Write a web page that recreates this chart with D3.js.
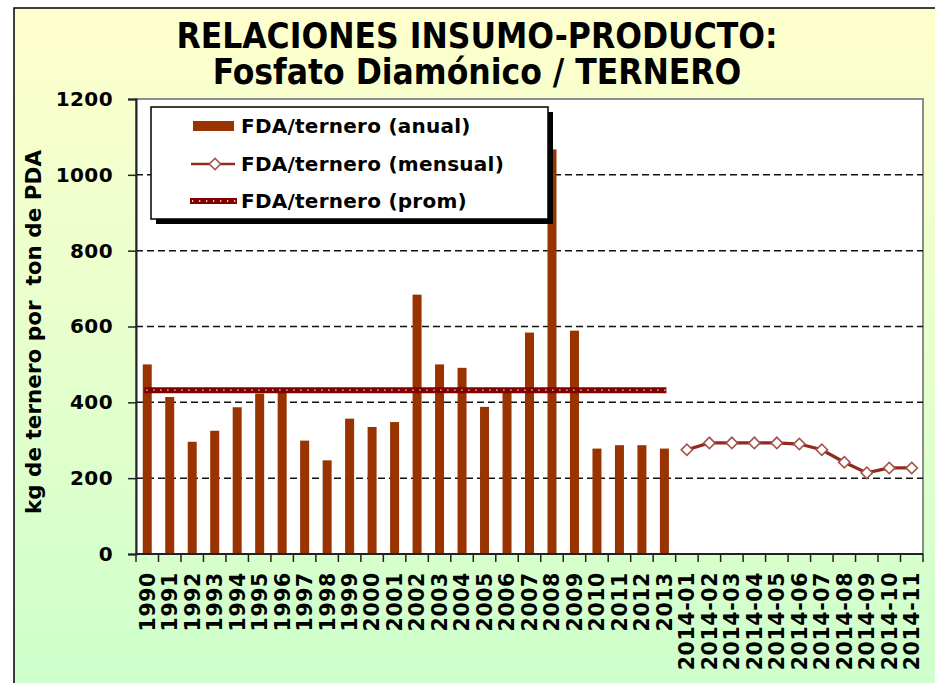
<!DOCTYPE html>
<html>
<head>
<meta charset="utf-8">
<script src="https://cdn.jsdelivr.net/npm/d3@7"></script>
<style>
  html, body { margin: 0; padding: 0; background: #fff; }
  svg { display: block; }
  .bold { font-family: "DejaVu Sans", Verdana, sans-serif; font-weight: bold; }
</style>
</head>
<body>
<svg id="chart" width="935" height="683"></svg>
<script>
// ---- data ----
const years = ["1990","1991","1992","1993","1994","1995","1996","1997","1998","1999","2000","2001","2002","2003","2004","2005","2006","2007","2008","2009","2010","2011","2012","2013"];
const annualValues = [500,414,296,325,387,423,430,299,247,357,335,348,684,500,491,388,427,584,1067,589,278,287,287,278];
const months = ["2014-01","2014-02","2014-03","2014-04","2014-05","2014-06","2014-07","2014-08","2014-09","2014-10","2014-11"];
const monthlyValues = [275,293,293,293,293,290,275,242,214,227,227];
const averageValue = 432;
const yTicks = [0,200,400,600,800,1000,1200];
const titleLines = ["RELACIONES INSUMO-PRODUCTO:", "Fosfato Diamónico / TERNERO"];
const yLabel = "kg de ternero por\u00a0 ton de PDA";
const legendLabels = ["FDA/ternero (anual)", "FDA/ternero (mensual)", "FDA/ternero (prom)"];

const categories = years.concat(months);

// ---- layout ----
const svg = d3.select("#chart");
const plot = {left: 136, right: 923, top: 99, bottom: 554};
const barColor = "#993300";
const lineColor = "#8E2B1E";
const promColor = "#800000";

// background gradient
const defs = svg.append("defs");
const grad = defs.append("linearGradient").attr("id", "bg").attr("x1", 0).attr("y1", 0).attr("x2", 0).attr("y2", 1);
grad.append("stop").attr("offset", "0%").attr("stop-color", "#FFFFCC");
grad.append("stop").attr("offset", "100%").attr("stop-color", "#CCFFCC");

svg.append("rect").attr("x", 14).attr("y", 8).attr("width", 940).attr("height", 700)
  .attr("fill", "url(#bg)").attr("stroke", "#000").attr("stroke-width", 1.5);

// title
const titleFont = "'DejaVu Sans Condensed', 'DejaVu Sans', sans-serif";
titleLines.forEach((t, i) => {
  svg.append("text").attr("class", "bold")
    .attr("text-anchor", "middle")
    .attr("x", 477).attr("y", i === 0 ? 48 : 84)
    .style("font-family", titleFont)
    .style("font-stretch", "condensed")
    .style("font-size", "35px").attr("fill", "#000").text(t);
});

// scales
const x = d3.scaleBand().domain(categories).range([plot.left, plot.right]).paddingInner(0.6).paddingOuter(0.3);
const y = d3.scaleLinear().domain([0, 1200]).range([plot.bottom, plot.top]);
const cx = d => x(d) + x.bandwidth() / 2;

// plot area
svg.append("rect").attr("x", plot.left).attr("y", plot.top)
  .attr("width", plot.right - plot.left).attr("height", plot.bottom - plot.top)
  .attr("fill", "#fff").attr("stroke", "#8c8c8c").attr("stroke-width", 2);

// gridlines
svg.append("g").selectAll("line").data(yTicks.filter(t => t > 0 && t < 1200)).join("line")
  .attr("x1", plot.left).attr("x2", plot.right)
  .attr("y1", d => y(d)).attr("y2", d => y(d))
  .attr("stroke", "#111").attr("stroke-width", 1.5).attr("stroke-dasharray", "7,4");

// bars
svg.append("g").selectAll("rect").data(years).join("rect")
  .attr("x", d => x(d)).attr("width", x.bandwidth())
  .attr("y", (d, i) => y(annualValues[i]))
  .attr("height", (d, i) => y(0) - y(annualValues[i]))
  .attr("fill", barColor);

// average line
function promLine(g, x1, x2, yy) {
  g.append("line").attr("x1", x1).attr("x2", x2).attr("y1", yy).attr("y2", yy)
    .attr("stroke", promColor).attr("stroke-width", 6);
  g.append("line").attr("x1", x1 + 2).attr("x2", x2).attr("y1", yy).attr("y2", yy)
    .attr("stroke", "#fff").attr("stroke-width", 1.3).attr("stroke-dasharray", "1.3,5.7");
}
promLine(svg.append("g"), cx(years[0]) - 3, cx(years[years.length - 1]) + 2, y(averageValue));

// monthly line
const line = d3.line().x(d => cx(d[0])).y(d => y(d[1]));
const mData = months.map((m, i) => [m, monthlyValues[i]]);
svg.append("path").datum(mData).attr("d", line)
  .attr("fill", "none").attr("stroke", lineColor).attr("stroke-width", 3.2);
const diamond = d3.symbol().type(d3.symbolSquare).size(64);
svg.append("g").selectAll("path").data(mData).join("path")
  .attr("d", diamond)
  .attr("transform", d => `translate(${cx(d[0])},${y(d[1])}) rotate(45)`)
  .attr("fill", "#fff").attr("stroke", "#A5524A").attr("stroke-width", 1.6);

// y axis
const yAxis = svg.append("g").attr("transform", `translate(${plot.left},0)`)
  .call(d3.axisLeft(y).tickValues(yTicks).tickSize(8).tickPadding(15).tickFormat(d3.format("d")));
yAxis.select(".domain").attr("stroke", "#222").attr("stroke-width", 2);
yAxis.selectAll(".tick line").attr("stroke", "#222").attr("stroke-width", 1.5);
yAxis.selectAll(".tick text").attr("class", "bold").style("font-size", "20px")
  .style("letter-spacing", "0.4px").attr("fill", "#000");

// x axis
const xg = svg.append("g");
xg.append("line").attr("x1", plot.left).attr("x2", plot.right).attr("y1", plot.bottom).attr("y2", plot.bottom)
  .attr("stroke", "#222").attr("stroke-width", 2);
const bounds = categories.map(c => x(c) - (x.step() - x.bandwidth()) / 2).concat([plot.right]);
xg.selectAll("line.tk").data(bounds).join("line").attr("class", "tk")
  .attr("x1", d => d).attr("x2", d => d).attr("y1", plot.bottom).attr("y2", plot.bottom + 8)
  .attr("stroke", "#222").attr("stroke-width", 1.5);
xg.selectAll("text").data(categories).join("text").attr("class", "bold")
  .attr("transform", d => `translate(${cx(d)},572) rotate(-90)`)
  .attr("text-anchor", "end").attr("dy", "0.36em")
  .style("font-size", "20.5px").style("letter-spacing", "0.6px").attr("fill", "#000")
  .text(d => d);

// y label
svg.append("text").attr("class", "bold")
  .attr("transform", "translate(33,332) rotate(-90)")
  .attr("text-anchor", "middle").attr("dy", "0.36em")
  .style("font-size", "21.5px").attr("fill", "#000").text(yLabel);

// legend
const lg = svg.append("g");
lg.append("rect").attr("x", 156).attr("y", 112).attr("width", 397).attr("height", 112).attr("fill", "#000");
lg.append("rect").attr("x", 151).attr("y", 107).attr("width", 397).attr("height", 112)
  .attr("fill", "#fff").attr("stroke", "#000").attr("stroke-width", 1.5);
const ly = [126, 164, 201];
lg.append("rect").attr("x", 193).attr("y", ly[0] - 5).attr("width", 41).attr("height", 10).attr("fill", barColor);
lg.append("line").attr("x1", 191).attr("x2", 235).attr("y1", ly[1]).attr("y2", ly[1])
  .attr("stroke", lineColor).attr("stroke-width", 2.5);
lg.append("path").attr("d", diamond).attr("transform", `translate(215,${ly[1]}) rotate(45)`)
  .attr("fill", "#fff").attr("stroke", "#A5524A").attr("stroke-width", 1.5);
promLine(lg, 190, 237, ly[2]);
lg.selectAll("text.lt").data(legendLabels).join("text").attr("class", "bold lt")
  .attr("x", 241).attr("y", (d, i) => ly[i]).attr("dy", "0.36em")
  .style("font-size", "20px").style("letter-spacing", "0.25px").attr("fill", "#000").text(d => d);
</script>
</body>
</html>
